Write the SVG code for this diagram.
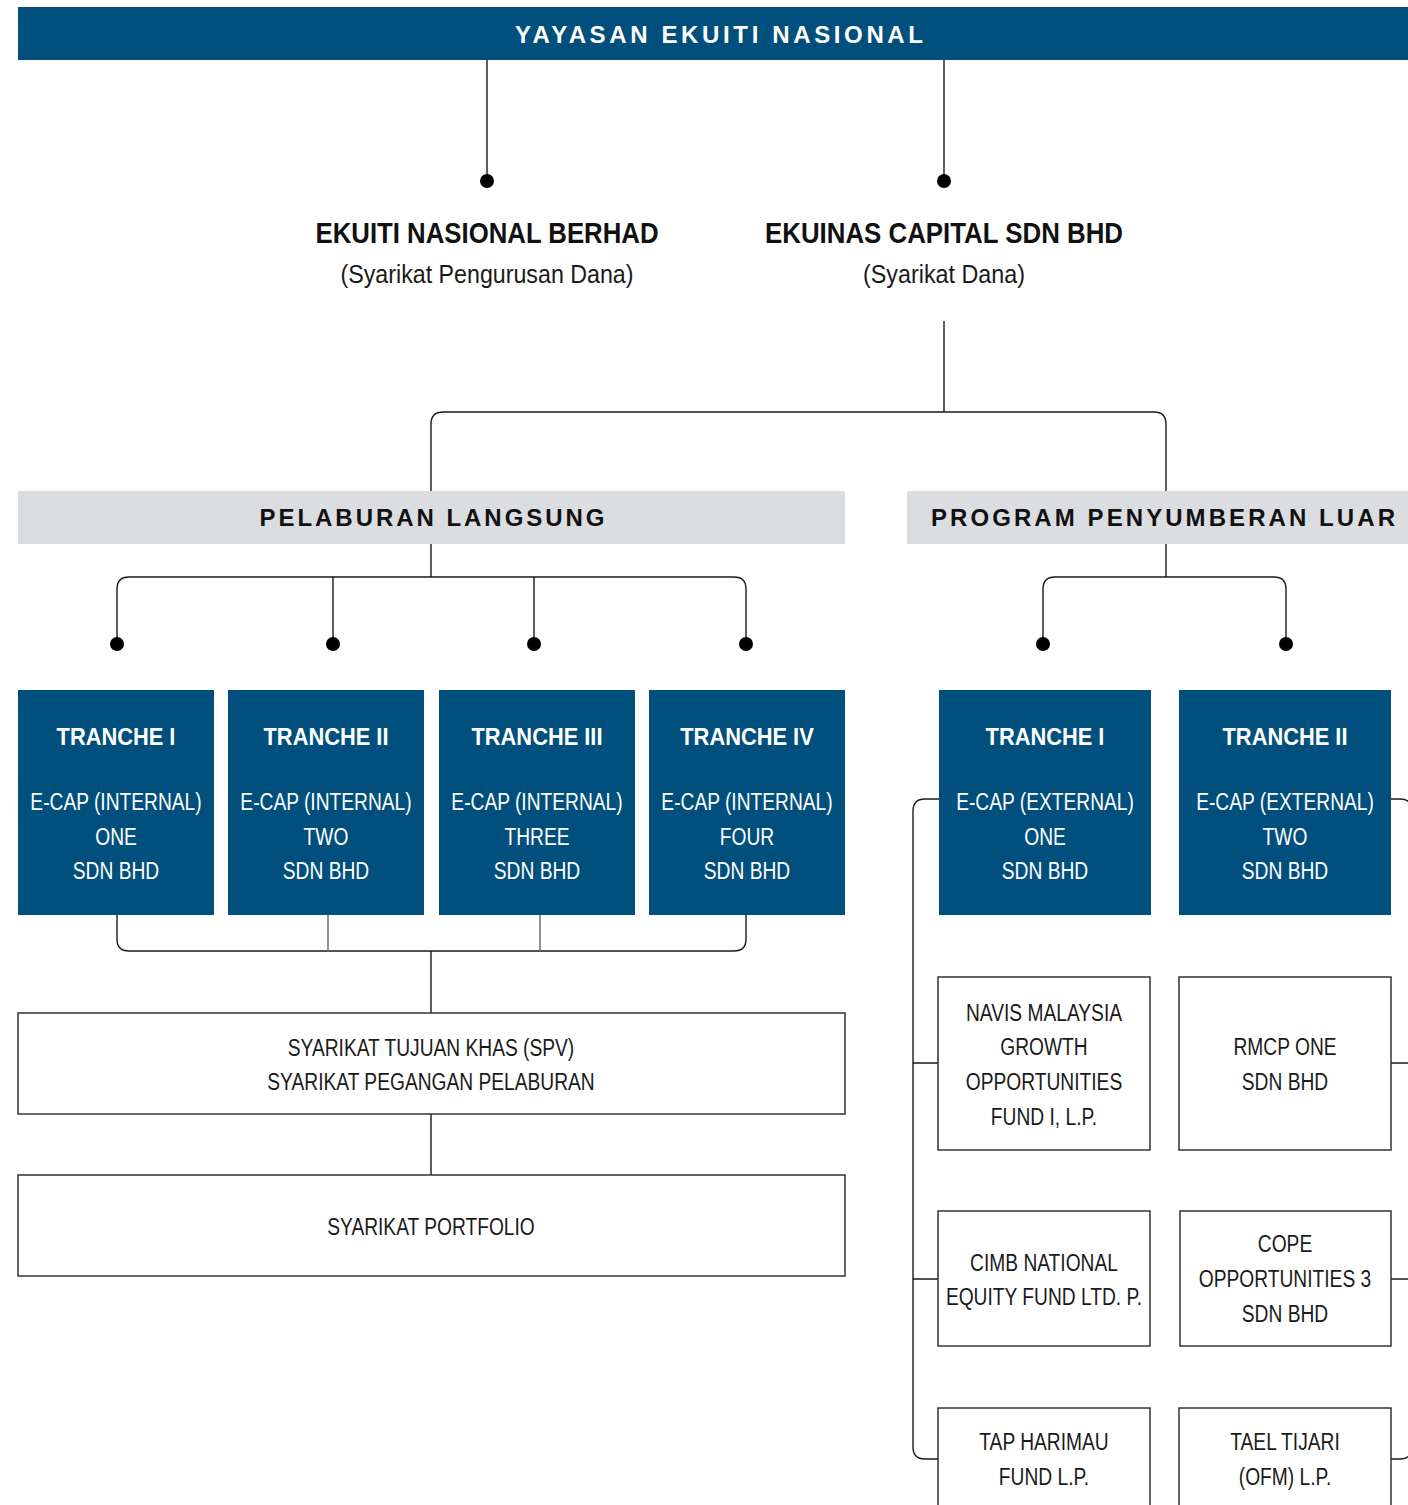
<svg xmlns="http://www.w3.org/2000/svg" width="1408" height="1505" viewBox="0 0 1408 1505">
<style>
text{font-family:"Liberation Sans",Arial,sans-serif;text-anchor:middle}
.r{font-size:23px;fill:#1a1a1a}
.rw{font-size:23px;fill:#ffffff}
.bw{font-size:24px;font-weight:bold;fill:#ffffff}
.h{font-size:30px;font-weight:bold;fill:#111}
.s{font-size:25px;fill:#1a1a1a}
.sp{font-size:24px;font-weight:bold;fill:#111}
.blue{fill:#004f7d}
.gray{fill:#dcdde0}
.box{fill:#fff;stroke:#333;stroke-width:1.5}
.ln{fill:none;stroke:#1a1a1a;stroke-width:1.4}
.lg{fill:none;stroke:#777;stroke-width:1.6}
.dot{fill:#000}
</style>
<rect width="1408" height="1505" fill="#fff"/>
<g id="connectors">
<path class="ln" d="M487 60V181M944 60V181"/>
<circle class="dot" cx="487" cy="181" r="7"/>
<circle class="dot" cx="944" cy="181" r="7"/>
<path class="ln" d="M944 321V412M431 491V424Q431 412 443 412H1154Q1166 412 1166 424V491"/>
<path class="ln" d="M431 544V577M117 644V589Q117 577 129 577H734Q746 577 746 589V644M333 577V644M534 577V644"/>
<path class="ln" d="M1166 544V577M1043 644V589Q1043 577 1055 577H1274Q1286 577 1286 589V644"/>
<circle class="dot" cx="117" cy="644" r="7"/>
<circle class="dot" cx="333" cy="644" r="7"/>
<circle class="dot" cx="534" cy="644" r="7"/>
<circle class="dot" cx="746" cy="644" r="7"/>
<circle class="dot" cx="1043" cy="644" r="7"/>
<circle class="dot" cx="1286" cy="644" r="7"/>
<path class="ln" d="M117 915V939Q117 951 129 951H734Q746 951 746 939V915M431 951V1013M431 1114V1175"/>
<path class="lg" d="M328 915V951M540 915V951"/>
<path class="ln" d="M939 799H925Q913 799 913 811V1447Q913 1459 925 1459H938M913 1063H938M913 1279H938"/>
<path class="ln" d="M1391 799H1400Q1412 799 1412 811V1447Q1412 1459 1400 1459H1391M1391 1063H1412M1391 1279H1412"/>
</g>
<g id="yayasan">
<rect class="blue" x="18" y="7" width="1390" height="53"/>
<text class="bw" x="719" y="43" font-size="25" textLength="408" lengthAdjust="spacing">YAYASAN EKUITI NASIONAL</text>
</g>
<g id="enb">
<text class="h" x="487" y="243" textLength="343" lengthAdjust="spacingAndGlyphs">EKUITI NASIONAL BERHAD</text>
<text class="s" x="487" y="283" textLength="293" lengthAdjust="spacingAndGlyphs">(Syarikat Pengurusan Dana)</text>
</g>
<g id="ecap">
<text class="h" x="944" y="243" textLength="358" lengthAdjust="spacingAndGlyphs">EKUINAS CAPITAL SDN BHD</text>
<text class="s" x="944" y="283" textLength="162" lengthAdjust="spacingAndGlyphs">(Syarikat Dana)</text>
</g>
<g id="pelaburan">
<rect class="gray" x="18" y="491" width="827" height="53"/>
<text class="sp" x="432" y="526" textLength="345" lengthAdjust="spacing">PELABURAN LANGSUNG</text>
</g>
<g id="program">
<rect class="gray" x="907" y="491" width="501" height="53"/>
<text class="sp" x="1163" y="526" textLength="464" lengthAdjust="spacing">PROGRAM PENYUMBERAN LUAR</text>
</g>
<g id="int1">
<rect class="blue" x="18" y="690" width="196" height="225"/>
<text class="bw" transform="translate(116 745) scale(.91 1)">TRANCHE I</text>
<text class="rw" transform="translate(116 810) scale(.835 1)">E-CAP (INTERNAL)</text>
<text class="rw" transform="translate(116 845) scale(.835 1)">ONE</text>
<text class="rw" transform="translate(116 879) scale(.835 1)">SDN BHD</text>
</g>
<g id="int2">
<rect class="blue" x="228" y="690" width="196" height="225"/>
<text class="bw" transform="translate(326 745) scale(.91 1)">TRANCHE II</text>
<text class="rw" transform="translate(326 810) scale(.835 1)">E-CAP (INTERNAL)</text>
<text class="rw" transform="translate(326 845) scale(.835 1)">TWO</text>
<text class="rw" transform="translate(326 879) scale(.835 1)">SDN BHD</text>
</g>
<g id="int3">
<rect class="blue" x="439" y="690" width="196" height="225"/>
<text class="bw" transform="translate(537 745) scale(.91 1)">TRANCHE III</text>
<text class="rw" transform="translate(537 810) scale(.835 1)">E-CAP (INTERNAL)</text>
<text class="rw" transform="translate(537 845) scale(.835 1)">THREE</text>
<text class="rw" transform="translate(537 879) scale(.835 1)">SDN BHD</text>
</g>
<g id="int4">
<rect class="blue" x="649" y="690" width="196" height="225"/>
<text class="bw" transform="translate(747 745) scale(.91 1)">TRANCHE IV</text>
<text class="rw" transform="translate(747 810) scale(.835 1)">E-CAP (INTERNAL)</text>
<text class="rw" transform="translate(747 845) scale(.835 1)">FOUR</text>
<text class="rw" transform="translate(747 879) scale(.835 1)">SDN BHD</text>
</g>
<g id="ext1">
<rect class="blue" x="939" y="690" width="212" height="225"/>
<text class="bw" transform="translate(1045 745) scale(.91 1)">TRANCHE I</text>
<text class="rw" transform="translate(1045 810) scale(.835 1)">E-CAP (EXTERNAL)</text>
<text class="rw" transform="translate(1045 845) scale(.835 1)">ONE</text>
<text class="rw" transform="translate(1045 879) scale(.835 1)">SDN BHD</text>
</g>
<g id="ext2">
<rect class="blue" x="1179" y="690" width="212" height="225"/>
<text class="bw" transform="translate(1285 745) scale(.91 1)">TRANCHE II</text>
<text class="rw" transform="translate(1285 810) scale(.835 1)">E-CAP (EXTERNAL)</text>
<text class="rw" transform="translate(1285 845) scale(.835 1)">TWO</text>
<text class="rw" transform="translate(1285 879) scale(.835 1)">SDN BHD</text>
</g>
<g id="spv">
<rect class="box" x="18" y="1013" width="827" height="101"/>
<text class="r" transform="translate(431 1056) scale(.835 1)">SYARIKAT TUJUAN KHAS (SPV)</text>
<text class="r" transform="translate(431 1090) scale(.835 1)">SYARIKAT PEGANGAN PELABURAN</text>
</g>
<g id="portfolio">
<rect class="box" x="18" y="1175" width="827" height="101"/>
<text class="r" transform="translate(431 1235) scale(.835 1)">SYARIKAT PORTFOLIO</text>
</g>
<g id="navis">
<rect class="box" x="938" y="977" width="212" height="173"/>
<text class="r" transform="translate(1044 1021) scale(.835 1)">NAVIS MALAYSIA</text>
<text class="r" transform="translate(1044 1055) scale(.835 1)">GROWTH</text>
<text class="r" transform="translate(1044 1090) scale(.835 1)">OPPORTUNITIES</text>
<text class="r" transform="translate(1044 1125) scale(.835 1)">FUND I, L.P.</text>
</g>
<g id="rmcp">
<rect class="box" x="1179" y="977" width="212" height="173"/>
<text class="r" transform="translate(1285 1055) scale(.835 1)">RMCP ONE</text>
<text class="r" transform="translate(1285 1090) scale(.835 1)">SDN BHD</text>
</g>
<g id="cimb">
<rect class="box" x="938" y="1211" width="212" height="135"/>
<text class="r" transform="translate(1044 1271) scale(.835 1)">CIMB NATIONAL</text>
<text class="r" transform="translate(1044 1305) scale(.835 1)">EQUITY FUND LTD. P.</text>
</g>
<g id="cope">
<rect class="box" x="1180" y="1211" width="211" height="135"/>
<text class="r" transform="translate(1285 1252) scale(.835 1)">COPE</text>
<text class="r" transform="translate(1285 1287) scale(.835 1)">OPPORTUNITIES 3</text>
<text class="r" transform="translate(1285 1322) scale(.835 1)">SDN BHD</text>
</g>
<g id="tap">
<rect class="box" x="938" y="1408" width="212" height="110"/>
<text class="r" transform="translate(1044 1450) scale(.835 1)">TAP HARIMAU</text>
<text class="r" transform="translate(1044 1485) scale(.835 1)">FUND L.P.</text>
</g>
<g id="tael">
<rect class="box" x="1179" y="1408" width="212" height="110"/>
<text class="r" transform="translate(1285 1450) scale(.835 1)">TAEL TIJARI</text>
<text class="r" transform="translate(1285 1485) scale(.835 1)">(OFM) L.P.</text>
</g>
</svg>
